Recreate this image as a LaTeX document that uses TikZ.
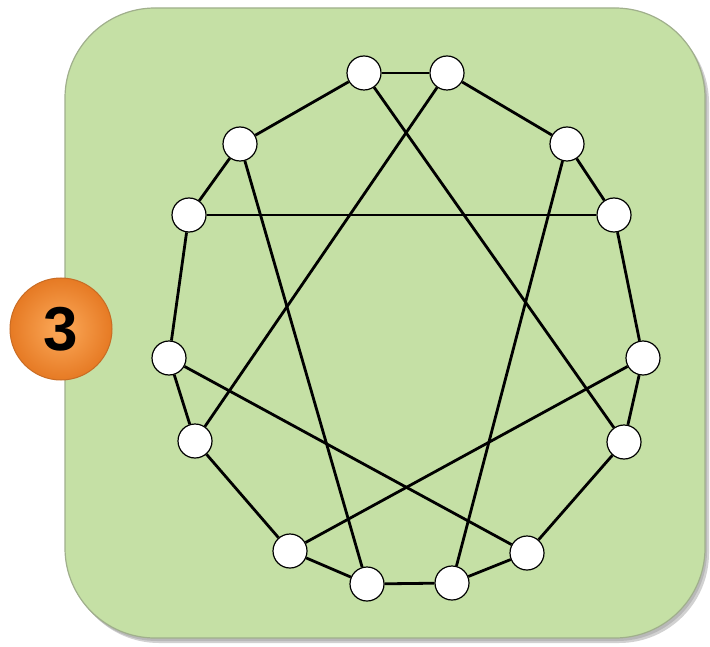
\documentclass[tikz,border=0pt]{standalone}
\usepackage{fontspec}
\setmainfont{Liberation Sans}
\definecolor{boxgreen}{RGB}{197,224,165}
\definecolor{boxedge}{RGB}{160,175,140}
\definecolor{orangein}{RGB}{252,170,90}
\definecolor{orangeout}{RGB}{230,122,36}
\definecolor{orangeedge}{RGB}{200,108,36}
\tikzset{
  vtx/.style={circle, draw=black, fill=white, line width=0.6pt, minimum size=17pt, inner sep=0pt},
  edge/.style={line width=1.4pt, black},
  badge/.style={circle, inner sep=0pt, draw=orangeedge, line width=0.5pt,
     inner color=orangein, outer color=orangeout, font=\fontsize{31}{31}\selectfont\bfseries},
}
\begin{document}
\begin{tikzpicture}[x=0.5pt, y=-0.5pt]
\useasboundingbox (0,0) rectangle (710,646);
% shadow
\fill[black, opacity=0.18, rounded corners=45pt] (69,13) rectangle (709,643);
\fill[black, opacity=0.12, rounded corners=45pt] (67,11) rectangle (707,641);
% main box
\draw[fill=boxgreen, draw=boxedge, line width=0.6pt, rounded corners=45pt] (65,8) rectangle (705,638);
% badge
\node[badge, minimum size=51pt] (b) at (61,329) {3};
% vertices
\node[vtx] (v1) at (364,73) {};
\node[vtx] (v2) at (447,73) {};
\node[vtx] (v3) at (240,144) {};
\node[vtx] (v4) at (567,144) {};
\node[vtx] (v5) at (189,215) {};
\node[vtx] (v6) at (614,215) {};
\node[vtx] (v7) at (169,358) {};
\node[vtx] (v8) at (643,358) {};
\node[vtx] (v9) at (195,441) {};
\node[vtx] (v10) at (624,442) {};
\node[vtx] (v11) at (290,551) {};
\node[vtx] (v12) at (527,553) {};
\node[vtx] (v13) at (367,584) {};
\node[vtx] (v14) at (452,583) {};
% edges
\foreach \a/\b in {v1/v2, v2/v4, v4/v6, v6/v8, v8/v10, v10/v12, v12/v14, v14/v13, v13/v11, v11/v9, v9/v7, v7/v5, v5/v3, v3/v1,
  v1/v10, v2/v9, v3/v13, v4/v14, v5/v6, v7/v12, v8/v11}
  \draw[edge] (\a) -- (\b);
\end{tikzpicture}
\end{document}
